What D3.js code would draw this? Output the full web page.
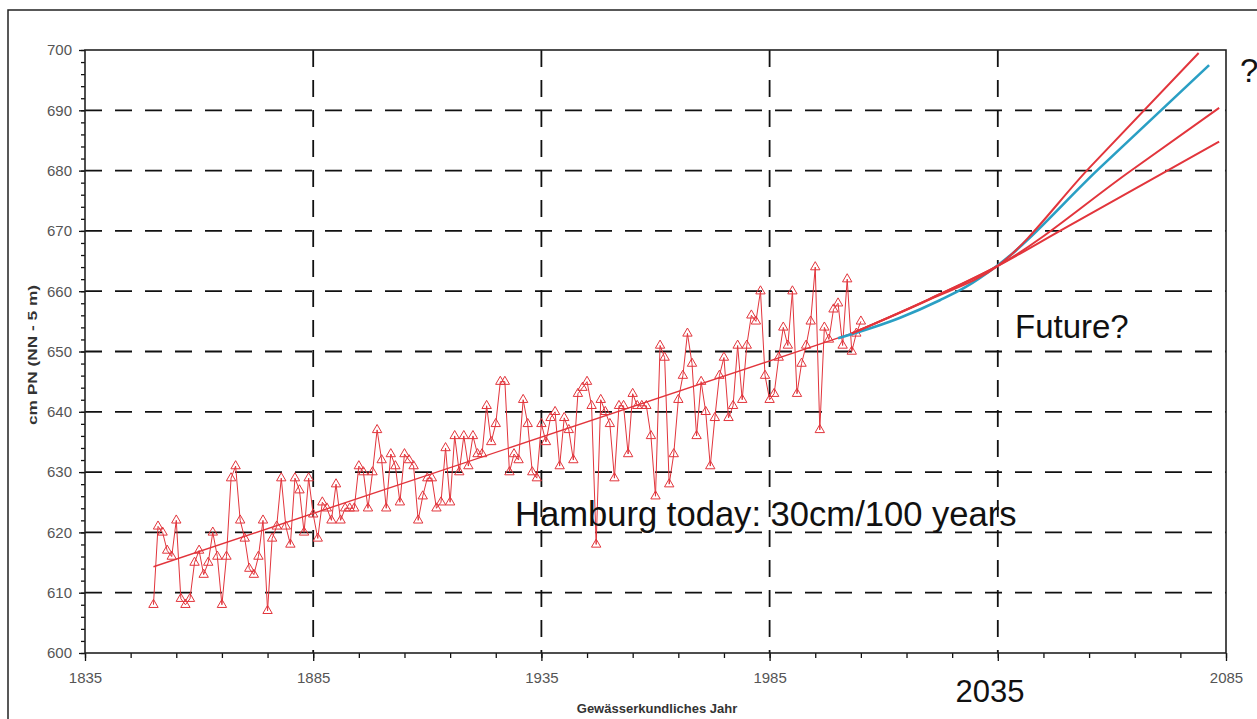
<!DOCTYPE html>
<html>
<head>
<meta charset="utf-8">
<script src="https://cdn.jsdelivr.net/npm/d3@7"></script>
<style>
  html, body { margin: 0; padding: 0; background: #fff; }
  svg { display: block; }
  .tick text { fill: #555; font-family: "Liberation Sans", Arial, sans-serif; }
</style>
</head>
<body>
<svg id="chart" width="1257" height="719"></svg>
<script>
// annual mean water level, Hamburg St. Pauli (cm PN)
const years = d3.range(1850, 2006)
const waterLevels = [
  608, 621, 620, 617, 616, 622, 609, 608, 609, 615,
  617, 613, 615, 620, 616, 608, 616, 629, 631, 622,
  619, 614, 613, 616, 622, 607, 619, 621, 629, 621,
  618, 629, 627, 620, 629, 623, 619, 625, 624, 622,
  628, 622, 624, 624, 624, 631, 630, 624, 630, 637,
  632, 624, 633, 631, 625, 633, 632, 631, 622, 626,
  629, 629, 624, 625, 634, 625, 636, 630, 636, 631,
  636, 633, 633, 641, 635, 638, 645, 645, 630, 633,
  632, 642, 638, 630, 629, 638, 635, 639, 640, 631,
  639, 637, 632, 643, 644, 645, 641, 618, 642, 640,
  638, 629, 641, 641, 633, 643, 641, 641, 641, 636,
  626, 651, 649, 628, 633, 642, 646, 653, 648, 636,
  645, 640, 631, 639, 646, 649, 639, 641, 651, 642,
  651, 656, 655, 660, 646, 642, 643, 649, 654, 651,
  660, 643, 648, 651, 655, 664, 637, 654, 652, 657,
  658, 651, 662, 650, 653, 655
]

// linear trend
const trendYears = [1850, 2003]
const trendValues = [614.3, 653]

// scenarios
const scenarioHigh = [[2003, 653], [2020, 658.6], [2035, 664.2], [2055, 680.4], [2079, 699.5]]
const scenarioMid = [[2003, 653], [2020, 658.7], [2035, 664.2], [2064, 679.9], [2083.5, 690.4]]
const scenarioLow = [[2003, 653], [2020, 658.7], [2035, 664.2], [2049.3, 670.3], [2083.5, 684.8]]
const scenarioBlue = [[2000, 652.2], [2013.6, 655.6], [2022.3, 658.5], [2028, 660.7], [2035, 664.3], [2057, 680.2], [2081.3, 697.5]]

const xMajor = [1835, 1885, 1935, 1985, 2035, 2085]
const xLabelled = [1835, 1885, 1935, 1985, 2085]
const yMajor = d3.range(600, 701, 10)

const red = '#e2353c'
const blue = '#2a9fc4'

const svg = d3.select('#chart')
const plotLeft = 85, plotRight = 1226, plotTop = 50, plotBottom = 653

const x = d3.scaleLinear().domain([1835, 2085]).range([plotLeft, plotRight])
const y = d3.scaleLinear().domain([600, 700]).range([plotBottom, plotTop])

// outer frame
svg.append('rect')
  .attr('x', 8).attr('y', 10)
  .attr('width', 1260).attr('height', 720)
  .attr('fill', 'none').attr('stroke', '#222').attr('stroke-width', 1.5)

// grid
const grid = svg.append('g')
  .attr('stroke', '#111')
  .attr('stroke-width', 1.8)
  .attr('stroke-dasharray', '17,13')
grid.selectAll('line.h')
  .data(yMajor.filter(v => v > 600 && v < 700))
  .enter().append('line')
  .attr('class', 'h')
  .attr('x1', plotLeft).attr('x2', plotRight)
  .attr('y1', d => y(d)).attr('y2', d => y(d))
grid.selectAll('line.v')
  .data(xMajor.filter(v => v > 1835 && v < 2085))
  .enter().append('line')
  .attr('class', 'v')
  .attr('y1', plotTop).attr('y2', plotBottom)
  .attr('x1', d => x(d)).attr('x2', d => x(d))

// minor ticks
svg.append('g')
  .attr('transform', `translate(${plotLeft},0)`)
  .call(d3.axisLeft(y).tickValues(d3.range(600, 701, 2)).tickSize(4).tickFormat(''))
  .call(g => g.select('.domain').remove())
svg.append('g')
  .attr('transform', `translate(0,${plotBottom})`)
  .call(d3.axisBottom(x).tickValues(d3.range(1835, 2086, 10)).tickSize(5).tickFormat(''))
  .call(g => g.select('.domain').remove())

// major axes
const yAxis = svg.append('g')
  .attr('transform', `translate(${plotLeft},0)`)
  .call(d3.axisLeft(y).tickValues(yMajor).tickSize(6).tickPadding(7).tickFormat(d3.format('d')))
yAxis.selectAll('text').attr('font-size', 15)
yAxis.select('.domain').remove()

const xAxis = svg.append('g')
  .attr('transform', `translate(0,${plotBottom})`)
  .call(d3.axisBottom(x).tickValues(xMajor).tickSize(8).tickPadding(11)
    .tickFormat(d => xLabelled.includes(d) ? d3.format('d')(d) : ''))
xAxis.selectAll('text').attr('font-size', 15)
xAxis.select('.domain').remove()

svg.selectAll('.tick line').attr('stroke', '#111').attr('stroke-width', 1.3)

// data line + markers
const points = years.map((yr, i) => [yr, waterLevels[i]])
const line = d3.line().x(d => x(d[0])).y(d => y(d[1]))

svg.append('path')
  .datum(points)
  .attr('d', line)
  .attr('fill', 'none')
  .attr('stroke', red)
  .attr('stroke-width', 1)

svg.append('path')
  .datum(trendYears.map((yr, i) => [yr, trendValues[i]]))
  .attr('d', line)
  .attr('fill', 'none')
  .attr('stroke', red)
  .attr('stroke-width', 1.4)

svg.append('g').selectAll('path')
  .data(points)
  .enter().append('path')
  .attr('d', d3.symbol(d3.symbolTriangle).size(38))
  .attr('transform', d => `translate(${x(d[0])},${y(d[1])})`)
  .attr('fill', 'none')
  .attr('stroke', red)
  .attr('stroke-width', 1)

// scenarios
const curve = d3.line().curve(d3.curveMonotoneX).x(d => x(d[0])).y(d => y(d[1]))
svg.append('path').datum(scenarioBlue).attr('d', curve)
  .attr('fill', 'none').attr('stroke', blue).attr('stroke-width', 2.6)
;[scenarioHigh, scenarioMid, scenarioLow].forEach(s => {
  svg.append('path').datum(s).attr('d', curve)
    .attr('fill', 'none').attr('stroke', red).attr('stroke-width', 2)
})

// plot frame
svg.append('rect')
  .attr('x', plotLeft).attr('y', plotTop)
  .attr('width', plotRight - plotLeft).attr('height', plotBottom - plotTop)
  .attr('fill', 'none').attr('stroke', '#222').attr('stroke-width', 1.6)

// annotations
const font = '"Liberation Sans", Arial, sans-serif'
svg.append('text')
  .attr('x', 515).attr('y', 526)
  .attr('font-family', font).attr('font-size', 34.6).attr('fill', '#111')
  .text('Hamburg today: 30cm/100 years')
svg.append('text')
  .attr('x', 1015).attr('y', 338)
  .attr('font-family', font).attr('font-size', 33).attr('fill', '#111')
  .text('Future?')
svg.append('text')
  .attr('x', 1240).attr('y', 82)
  .attr('font-family', font).attr('font-size', 33).attr('fill', '#111')
  .text('?')
svg.append('text')
  .attr('x', 990).attr('y', 702)
  .attr('text-anchor', 'middle')
  .attr('font-family', font).attr('font-size', 31).attr('fill', '#111')
  .text('2035')

svg.append('text')
  .attr('x', 657).attr('y', 713)
  .attr('text-anchor', 'middle')
  .attr('font-family', font).attr('font-size', 13).attr('font-weight', 'bold').attr('fill', '#333')
  .text('Gewässerkundliches Jahr')
svg.append('text')
  .attr('transform', 'translate(37,355) rotate(-90)')
  .attr('text-anchor', 'middle')
  .attr('font-family', font).attr('font-size', 12.5).attr('font-weight', 'bold').attr('fill', '#333')
  .attr('textLength', 140).attr('lengthAdjust', 'spacingAndGlyphs')
  .text('cm PN (NN - 5 m)')
</script>
</body>
</html>
